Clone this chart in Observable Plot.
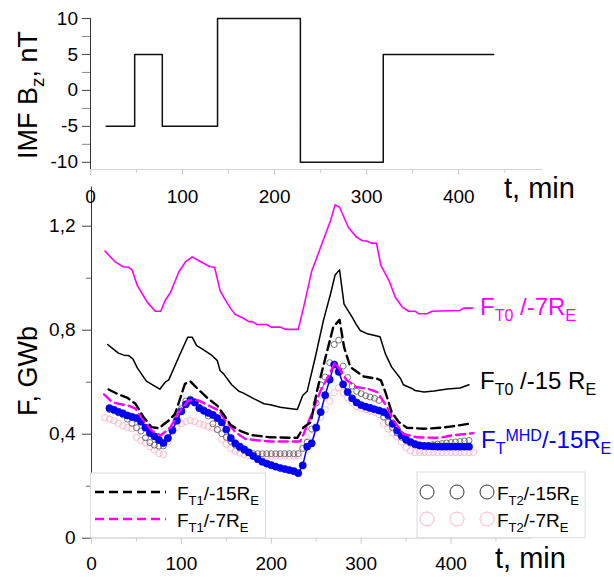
<!DOCTYPE html>
<html><head><meta charset="utf-8">
<script src="https://cdn.jsdelivr.net/npm/d3@7"></script>
<script src="https://cdn.jsdelivr.net/npm/@observablehq/plot@0.6"></script>
<style>
html,body{margin:0;padding:0;background:#fff;overflow:hidden;}
#chart{position:relative;width:614px;height:577px;}
#chart svg{position:absolute;left:0;top:0;}
</style></head><body><div id="chart"></div>
<script>
const FONT = "'Liberation Sans', Arial, Helvetica, sans-serif";

// ---- Top panel: IMF Bz (nT) step function ----
const bzTime  = [17, 48, 78, 138, 228, 318, 438];
const bzValue = [-5, 5, -5, 10, -10, 5, 5];
const bzTicks = [-10, -5, 0, 5, 10];
const bzMinor = [-7.5, -2.5, 2.5, 7.5];
const timeTicks = [0, 100, 200, 300, 400];
const timeMinorTop = [50, 150, 250, 350, 450];
const timeMinorBottom = [50, 150, 250, 350, 450];

// ---- Bottom panel: magnetic flux F (GWb) ----
// F_T0 / -7 RE (magenta solid)
const tT0_7 = [15,26,35,41,45,51,62,71,77,82,88,97,105,112,119,132,137,143,147,155,160,168,175,179,184,195,200,210,216,230,236,245,257,266,271,276,286,295,301,307,311,317,322,331,338,346,353,360,364,373,379,410,414,424];
const fT0_7 = [1.104,1.064,1.044,1.042,1.033,0.972,0.908,0.873,0.873,0.914,0.946,1.023,1.065,1.082,1.068,1.044,1.042,0.953,0.927,0.882,0.860,0.848,0.833,0.833,0.822,0.822,0.812,0.812,0.803,0.803,0.888,1.027,1.138,1.222,1.282,1.273,1.194,1.158,1.145,1.142,1.135,1.135,1.049,0.991,0.927,0.888,0.873,0.873,0.863,0.863,0.873,0.876,0.885,0.885];
// F_T0 / -15 RE (black solid)
const tT0_15 = [18,25,30,36,41,46,51,61,76,82,86,97,107,112,117,123,134,140,143,147,156,164,168,181,192,199,210,218,229,235,240,249,258,266,271,276,281,290,294,299,307,321,327,334,344,347,357,360,370,381,396,410,420];
const fT0_15 = [0.745,0.725,0.712,0.704,0.703,0.690,0.655,0.604,0.573,0.600,0.609,0.696,0.773,0.773,0.741,0.728,0.703,0.683,0.645,0.632,0.590,0.565,0.560,0.536,0.517,0.513,0.504,0.500,0.495,0.549,0.565,0.696,0.837,0.940,1.012,1.032,0.900,0.850,0.825,0.799,0.786,0.775,0.709,0.658,0.613,0.590,0.575,0.568,0.562,0.566,0.574,0.578,0.590];
// F_T1 / -15 RE (black dashed)
const tT1_15 = [19,30,40,49,58,67,75,86,93,104,110,118,130,140,149,155,162,166,177,199,229,236,244,251,260,269,276,281,288,303,318,322,327,334,342,351,370,390,405,423];
const fT1_15 = [0.572,0.553,0.540,0.517,0.465,0.427,0.423,0.453,0.478,0.594,0.603,0.575,0.536,0.510,0.465,0.435,0.420,0.412,0.397,0.388,0.386,0.427,0.446,0.568,0.690,0.812,0.840,0.735,0.658,0.622,0.613,0.607,0.562,0.485,0.446,0.425,0.421,0.425,0.432,0.442];
// F_T1 / -7 RE (magenta dashed)
const tT1_7 = [14,23,30,41,49,58,67,77,88,97,108,119,134,142,149,160,171,186,200,232,236,245,255,264,271,277,284,295,307,318,329,336,347,362,388,400,425];
const fT1_7 = [0.553,0.523,0.517,0.510,0.498,0.453,0.414,0.395,0.427,0.485,0.530,0.530,0.504,0.491,0.453,0.408,0.382,0.376,0.372,0.372,0.401,0.478,0.568,0.626,0.677,0.645,0.607,0.581,0.575,0.562,0.504,0.453,0.401,0.388,0.386,0.395,0.404];
// sample times of the point series
const tDots20 = [20,25,30,35,40,45,50,55,60,65,70,75,80,85,90,95,100,105,110,115,120,125,130,135,140,145,150,155,160,165,170,175,180,185,190,195,200,205,210,215,220,225,230,235,240,245,250,255,260,265,270,275,280,285,290,295,300,305,310,315,320,325,330,335,340,345,350,355,360,365,370,375,380,385,390,395,400,405,410,415,420];
const tDots15 = [15,20,25,30,35,40,45,50,55,60,65,70,75,80,85,90,95,100,105,110,115,120,125,130,135,140,145,150,155,160,165,170,175,180,185,190,195,200,205,210,215,220,225,230,235,240,245,250,255,260,265,270,275,280,285,290,295,300,305,310,315,320,325,330,335,340,345,350,355,360,365,370,375,380,385,390,395,400,405,410,415,420,425];
// F_T^MHD / -15 RE (blue dots + line)
const fMHD = [0.500,0.494,0.486,0.480,0.472,0.467,0.462,0.448,0.425,0.405,
 0.392,0.378,0.366,0.385,0.415,0.452,0.488,0.515,0.530,0.522,
 0.500,0.490,0.482,0.474,0.462,0.445,0.418,0.385,0.365,0.352,
 0.342,0.330,0.316,0.304,0.294,0.287,0.281,0.275,0.270,0.266,
 0.262,0.258,0.250,0.280,0.352,0.365,0.425,0.485,0.550,0.610,
 0.668,0.640,0.592,0.562,0.538,0.522,0.512,0.506,0.501,0.496,
 0.491,0.485,0.474,0.440,0.414,0.395,0.380,0.370,0.362,0.357,
 0.355,0.354,0.353,0.352,0.352,0.352,0.352,0.352,0.352,0.352,
 0.352];
// F_T2 / -15 RE (dark open circles)
const fT2_15 = [0.495,0.490,0.482,0.474,0.458,0.442,0.425,0.412,0.386,0.368,
 0.358,0.354,0.355,0.382,0.420,0.462,0.498,0.528,0.535,0.525,
 0.503,0.494,0.470,0.440,0.418,0.402,0.388,0.372,0.358,0.346,
 0.336,0.329,0.325,0.325,0.325,0.325,0.325,0.325,0.325,0.325,
 0.325,0.325,0.325,0.345,0.369,0.420,0.520,0.590,0.620,0.675,
 0.745,0.762,0.662,0.618,0.585,0.565,0.556,0.548,0.543,0.538,
 0.530,0.466,0.446,0.425,0.405,0.388,0.375,0.366,0.358,0.355,
 0.355,0.357,0.360,0.362,0.364,0.366,0.368,0.370,0.372,0.374,
 0.376];
// F_T2 / -7 RE (pink open circles)
const fT2_7 = [0.463,0.458,0.452,0.442,0.432,0.426,0.421,0.388,0.376,0.368,
 0.352,0.340,0.326,0.322,0.370,0.410,0.427,0.440,0.448,0.453,
 0.448,0.440,0.435,0.430,0.425,0.418,0.380,0.362,0.345,0.335,
 0.328,0.322,0.318,0.316,0.316,0.316,0.316,0.316,0.316,0.316,
 0.316,0.316,0.316,0.316,0.350,0.372,0.395,0.430,0.465,0.495,
 0.528,0.560,0.578,0.560,0.540,0.522,0.506,0.500,0.495,0.490,
 0.485,0.475,0.440,0.420,0.405,0.390,0.370,0.348,0.336,0.330,
 0.330,0.330,0.330,0.330,0.330,0.330,0.330,0.330,0.330,0.330,
 0.330,0.330,0.330];
const fTicks = [0, 0.4, 0.8, 1.2];
const fMinor = [0.2, 0.6, 1.0];

const MAGENTA = "#ff00ff", BLUE = "#0000ff", PINK = "#ffb3cc", GRAY = "#555";
const zip = (ts, vs) => ts.map((t, i) => ({t, v: vs[i]}));
const commaFmt = d => d === 0 ? "0" : d.toFixed(1).replace(".", ",");

const W = 614, H = 577;

// ---------- top panel ----------
const topPlot = Plot.plot({
  width: W, height: H,
  marginLeft: 90, marginRight: 72, marginTop: 18, marginBottom: H - 169,
  style: {background: "transparent", fontFamily: FONT, color: "black"},
  x: {domain: [0, 491]},
  y: {domain: [-11, 10]},
  marks: [
    Plot.ruleY([-11], {stroke: "#d4d4d4", strokeWidth: 1}),
    Plot.axisX({ticks: timeTicks, tickSize: 6, tickPadding: 14, fontSize: 19, stroke: "#c8c8c8", fill: "black", tickFormat: d => String(d), label: null}),
    Plot.axisX({ticks: timeMinorTop, tickSize: 4, stroke: "#d0d0d0", tickFormat: () => "", label: null}),
    Plot.ruleX([0], {stroke: "#333", strokeWidth: 1}),
    Plot.axisY({ticks: bzTicks, tickSize: 8, tickPadding: 4.5, fontSize: 19, stroke: "#444", fill: "black", tickFormat: d => String(d), label: null}),
    Plot.axisY({ticks: bzMinor, tickSize: 8, stroke: "#888", tickFormat: () => "", label: null}),
    Plot.line(zip(bzTime, bzValue), {x: "t", y: "v", curve: "step-after", stroke: "#111", strokeWidth: 1.5})
  ]
});

// ---------- bottom panel ----------
const botPlot = Plot.plot({
  width: W, height: H,
  marginLeft: 91, marginRight: W - 531.4, marginTop: 186.7, marginBottom: H - 537.7,
  style: {background: "transparent", fontFamily: FONT, color: "black"},
  x: {domain: [0, 490]},
  y: {domain: [0, 1.35]},
  marks: [
    Plot.ruleY([0], {stroke: "#d4d4d4", strokeWidth: 1}),
    Plot.axisX({ticks: timeTicks, tickSize: 6, tickPadding: 12, fontSize: 19, stroke: "#c8c8c8", fill: "black", tickFormat: d => String(d), label: null}),
    Plot.axisX({ticks: timeMinorBottom, tickSize: 4, stroke: "#d0d0d0", tickFormat: () => "", label: null}),
    Plot.ruleX([0], {stroke: "#333", strokeWidth: 1}),
    Plot.axisY({ticks: fTicks, tickSize: 9, tickPadding: 7, fontSize: 19, stroke: "#444", fill: "black", tickFormat: commaFmt, label: null}),
    Plot.axisY({ticks: fMinor, tickSize: 5, stroke: "#666", tickFormat: () => "", label: null}),
    Plot.dot(zip(tDots15, fT2_7), {x: "t", y: "v", r: 3.2, stroke: PINK, strokeWidth: 0.9, fill: "none"}),
    Plot.dot(zip(tDots20, fT2_15), {x: "t", y: "v", r: 3, stroke: GRAY, strokeWidth: 0.8, fill: "none"}),
    Plot.line(zip(tDots20, fMHD), {x: "t", y: "v", stroke: BLUE, strokeWidth: 1.5}),
    Plot.dot(zip(tDots20, fMHD), {x: "t", y: "v", r: 3.6, fill: BLUE, stroke: "#0000c8", strokeWidth: 0.6}),
    Plot.line(zip(tT1_7, fT1_7), {x: "t", y: "v", stroke: MAGENTA, strokeWidth: 2.4, strokeDasharray: "9,5"}),
    Plot.line(zip(tT1_15, fT1_15), {x: "t", y: "v", stroke: "#000", strokeWidth: 2.4, strokeDasharray: "9,5"}),
    Plot.line(zip(tT0_15, fT0_15), {x: "t", y: "v", stroke: "#000", strokeWidth: 1.5}),
    Plot.line(zip(tT0_7, fT0_7), {x: "t", y: "v", stroke: MAGENTA, strokeWidth: 1.6})
  ]
});

const chart = document.getElementById("chart");
chart.appendChild(botPlot);
chart.appendChild(topPlot);

// ---------- rich text labels ----------
const svg = d3.select(topPlot);
function rich(parent, {x, y, size, subSize, color = "black", rotate = 0, anchor = "start", sub = 0.26, sup = 0.3, parts}) {
  const t = parent.append("text")
    .attr("font-family", FONT).attr("font-size", size).attr("fill", color)
    .attr("text-anchor", anchor).style("white-space", "pre");
  if (rotate) t.attr("transform", `translate(${x},${y}) rotate(${rotate})`);
  else t.attr("x", x).attr("y", y);
  let cur = 0;
  for (const [s, kind] of parts) {
    const target = kind === "sub" ? sub * size : kind === "sup" ? -sup * size : 0;
    t.append("tspan").attr("dy", target - cur).attr("font-size", kind ? subSize : size).text(s);
    cur = target;
  }
  return t;
}

// axis titles
rich(svg, {x: 37, y: 95, size: 27, subSize: 19, rotate: -90, anchor: "middle",
  parts: [["IMF B"], ["z", "sub"], [", nT"]]});
rich(svg, {x: 37, y: 371, size: 27, subSize: 19, rotate: -90, anchor: "middle",
  parts: [["F, GWb"]]});
rich(svg, {x: 504, y: 198, size: 29, subSize: 20, parts: [["t, min"]]});
rich(svg, {x: 495, y: 568, size: 29, subSize: 20, parts: [["t, min"]]});

// in-plot series labels
rich(svg, {x: 480, y: 315, size: 24, subSize: 16, color: MAGENTA,
  parts: [["F"], ["T0", "sub"], [" /-7R"], ["E", "sub"]]});
rich(svg, {x: 480, y: 389, size: 24, subSize: 16, color: "black",
  parts: [["F"], ["T0", "sub"], [" /-15 R"], ["E", "sub"]]});
rich(svg, {x: 481, y: 448, size: 24, subSize: 16, color: BLUE,
  parts: [["F"], ["T", "sub"], ["MHD", "sup"], ["/-15R"], ["E", "sub"]]});

// legends
const lg = svg.append("g");
lg.append("rect").attr("x", 90.5).attr("y", 473).attr("width", 175).attr("height", 64.7)
  .attr("fill", "white").attr("stroke", "#dcdcdc");
lg.append("line").attr("x1", 95).attr("x2", 166).attr("y1", 492).attr("y2", 492)
  .attr("stroke", "#000").attr("stroke-width", 2.4).attr("stroke-dasharray", "9,5");
lg.append("line").attr("x1", 95).attr("x2", 166).attr("y1", 519).attr("y2", 519)
  .attr("stroke", MAGENTA).attr("stroke-width", 2.4).attr("stroke-dasharray", "9,5");
rich(lg, {x: 177, y: 500, size: 19, subSize: 13, parts: [["F"], ["T1", "sub"], ["/-15R"], ["E", "sub"]]});
rich(lg, {x: 177, y: 527, size: 19, subSize: 13, parts: [["F"], ["T1", "sub"], ["/-7R"], ["E", "sub"]]});

lg.append("rect").attr("x", 417).attr("y", 472).attr("width", 168).attr("height", 65.7)
  .attr("fill", "white").attr("stroke", "#dcdcdc");
for (const cx of [427, 457, 487]) {
  lg.append("circle").attr("cx", cx).attr("cy", 492).attr("r", 7).attr("fill", "none").attr("stroke", "#333").attr("stroke-width", 1);
  lg.append("circle").attr("cx", cx).attr("cy", 519).attr("r", 7).attr("fill", "none").attr("stroke", PINK).attr("stroke-width", 1);
}
rich(lg, {x: 497, y: 500, size: 19, subSize: 13, parts: [["F"], ["T2", "sub"], ["/-15R"], ["E", "sub"]]});
rich(lg, {x: 497, y: 527, size: 19, subSize: 13, parts: [["F"], ["T2", "sub"], ["/-7R"], ["E", "sub"]]});
</script>
</body></html>
